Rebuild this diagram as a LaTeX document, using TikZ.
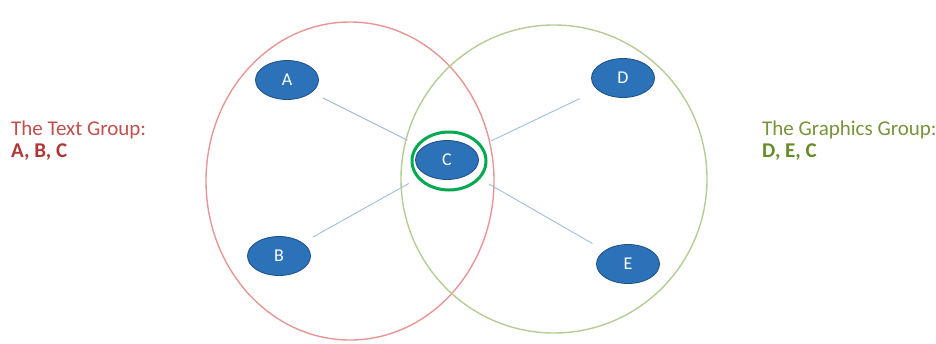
\documentclass[tikz,border=0pt]{standalone}
\usepackage{fontspec}
\setmainfont{Carlito}
\usepackage{xcolor}
\usetikzlibrary{shapes.geometric}
\definecolor{setred}{RGB}{232,150,148}
\definecolor{setgreen}{RGB}{182,204,150}
\definecolor{ringgreen}{RGB}{0,168,80}
\definecolor{dotblue}{RGB}{44,114,184}
\definecolor{dotedge}{RGB}{30,78,130}
\definecolor{linkblue}{RGB}{160,190,220}
\definecolor{txtred}{RGB}{192,80,77}
\definecolor{txtredb}{RGB}{175,55,55}
\definecolor{txtgreen}{RGB}{119,147,60}
\definecolor{txtgreenb}{RGB}{100,140,40}

\begin{document}
\begin{tikzpicture}[
  x=1pt, y=-1pt,
  setshape/.style={draw, ellipse, inner sep=0pt, line width=1.4pt},
  member/.style={ellipse, fill=dotblue, draw=dotedge, line width=0.8pt,
    minimum width=63pt, minimum height=39pt, inner sep=0pt,
    text=white, font=\fontsize{18}{18}\selectfont},
  ring/.style={ellipse, draw=ringgreen, line width=3pt,
    minimum width=74pt, minimum height=58pt, inner sep=0pt},
  link/.style={draw=linkblue, line width=0.9pt, shorten <=12pt, shorten >=10pt},
  grouptxt/.style={anchor=north west, align=left, inner sep=0pt,
    font=\fontsize{21}{22}\selectfont}
]
\useasboundingbox (0,0) rectangle (936,343);

% the two groups
\node[setshape, draw=setred, minimum width=288pt, minimum height=318pt] (textset) at (350,181) {};
\node[setshape, draw=setgreen, minimum width=306pt, minimum height=308pt] (graphset) at (554,179) {};

% members
\node[member] (A) at (287,80) {A};
\node[member] (B) at (279,256) {B};
\node[member] (C) at (447,160) {C};
\node[member] (D) at (623,78) {D};
\node[member] (E) at (628,264) {E};
\node[ring] (Cring) at (449,161) {};

\draw[link] (A) -- (Cring);
\draw[link] (B) -- (Cring);
\draw[link, shorten <=10pt, shorten >=20pt] (Cring) -- (D);
\draw[link, shorten <=10pt, shorten >=14pt] (Cring) -- (E);

% captions
\node[grouptxt, text=txtred] (textlbl) at (11,121)
  {The Text Group:\\\textcolor{txtredb}{\textbf{A, B, C}}};
\node[grouptxt, text=txtgreen] (graphlbl) at (762,121)
  {The Graphics Group:\\\textcolor{txtgreenb}{\textbf{D, E, C}}};
\end{tikzpicture}
\end{document}
